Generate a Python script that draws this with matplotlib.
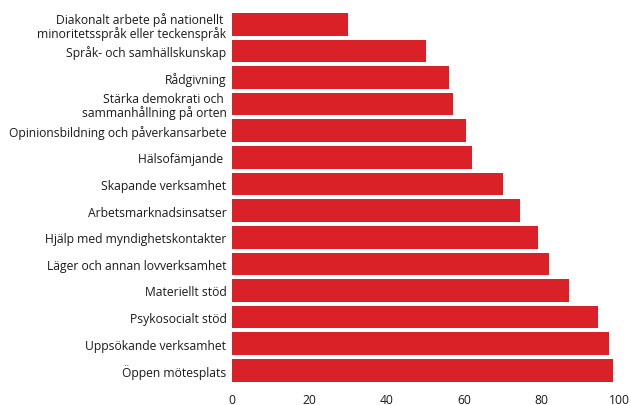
import matplotlib
matplotlib.use("Agg")
import matplotlib.pyplot as plt

# categories, top to bottom as in the figure
categories = [
    "Diakonalt arbete på nationellt \nminoritetsspråk eller teckenspråk",
    "Språk- och samhällskunskap",
    "Rådgivning",
    "Stärka demokrati och \nsammanhållning på orten",
    "Opinionsbildning och påverkansarbete",
    "Hälsofämjande ",
    "Skapande verksamhet",
    "Arbetsmarknadsinsatser",
    "Hjälp med myndighetskontakter",
    "Läger och annan lovverksamhet",
    "Materiellt stöd",
    "Psykosocialt stöd",
    "Uppsökande verksamhet",
    "Öppen mötesplats",
]
values = [30, 50, 56, 57, 60.5, 62, 70, 74.5, 79, 82, 87, 94.5, 97.5, 98.5]
xticks = [0, 20, 40, 60, 80, 100]

plt.rcParams['font.family'] = ['Open Sans', 'DejaVu Sans']

fig = plt.figure(figsize=(6.31, 4.06), dpi=100)
ax = fig.add_axes([0.3677, 0.0527, 0.6133, 0.9177])

ypos = list(range(len(categories)))
ax.barh(ypos, values, height=0.85, color="#da2128")
ax.set_ylim(len(categories) - 0.5, -0.5)
ax.set_xlim(0, 100)
ax.set_yticks(ypos)
ax.set_yticklabels(categories, fontsize=8.7, color="#1a1a1a", multialignment="right",
                   linespacing=1.0)
ax.set_xticks(xticks)
ax.set_xticklabels([str(t) for t in xticks], fontsize=8.7, color="#1a1a1a")
ax.tick_params(axis="both", length=0)
ax.tick_params(axis="y", pad=4)
ax.tick_params(axis="x", pad=7)
for s in ax.spines.values():
    s.set_visible(False)

fig.savefig("out.png", dpi=100)
